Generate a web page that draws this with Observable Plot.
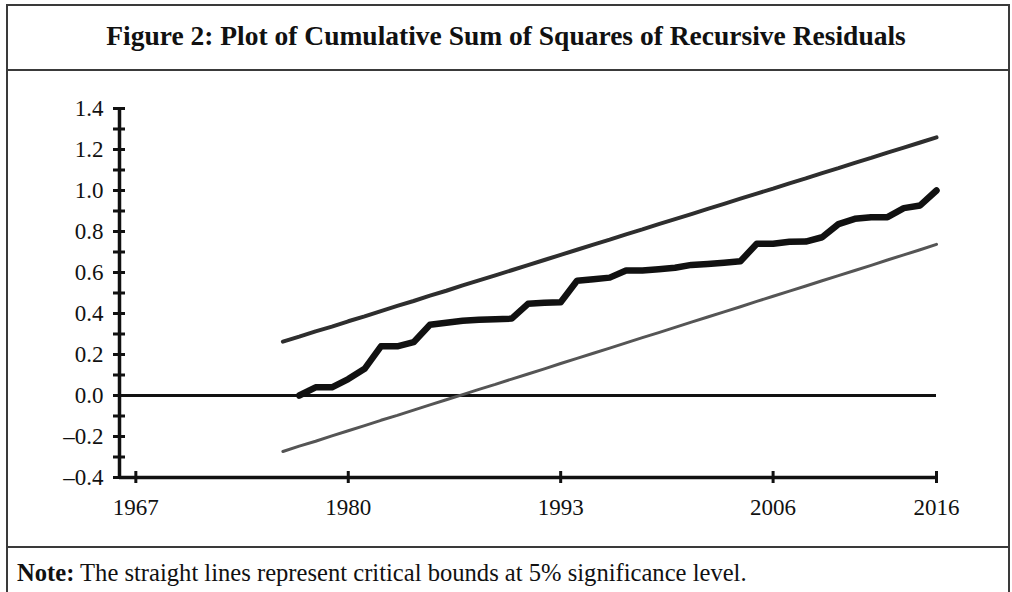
<!DOCTYPE html>
<html>
<head>
<meta charset="utf-8">
<script src="https://cdn.jsdelivr.net/npm/d3@7"></script>
<script src="https://cdn.jsdelivr.net/npm/@observablehq/plot@0.6"></script>
<style>
  html, body { margin: 0; padding: 0; background: #fff; }
  #wrap { position: relative; width: 1012px; height: 592px; overflow: hidden; background: #fff; font-family: "Liberation Serif", serif; color: #111; }
  #box { position: absolute; left: 6px; top: 4px; width: 1000px; height: 640px; border: 2px solid #3a3a3a; }
  .hline { position: absolute; left: 6px; width: 1004px; height: 2px; background: #3a3a3a; }
  #title { position: absolute; left: 0; top: 20px; width: 1012px; text-align: center; font-weight: bold; font-size: 27.5px; line-height: 32px; }
  #chart { position: absolute; left: 0; top: 70px; }
  #note { position: absolute; left: 17px; top: 559px; font-size: 24.6px; line-height: 28px; white-space: nowrap; }
</style>
</head>
<body>
<div id="wrap">
  <div id="box"></div>
  <div id="title">Figure 2: Plot of Cumulative Sum of Squares of Recursive Residuals</div>
  <div class="hline" style="top:69px"></div>
  <div id="chart"></div>
  <div class="hline" style="top:546px"></div>
  <div id="note"><b>Note:</b> The straight lines represent critical bounds at 5% significance level.</div>
</div>
<script>
// ---- data ----
const boundYears = [1976,1977,1978,1979,1980,1981,1982,1983,1984,1985,1986,1987,1988,1989,1990,1991,1992,1993,1994,1995,1996,1997,1998,1999,2000,2001,2002,2003,2004,2005,2006,2007,2008,2009,2010,2011,2012,2013,2014,2015,2016];
const upperBound = [0.263,0.287,0.313,0.336,0.362,0.386,0.412,0.437,0.461,0.487,0.511,0.537,0.562,0.586,0.611,0.636,0.661,0.686,0.711,0.736,0.760,0.786,0.810,0.836,0.860,0.885,0.910,0.935,0.960,0.985,1.009,1.035,1.059,1.085,1.109,1.135,1.159,1.185,1.209,1.234,1.259];
const lowerBound = [-0.273,-0.247,-0.223,-0.197,-0.172,-0.147,-0.121,-0.097,-0.071,-0.046,-0.021,0.004,0.030,0.054,0.080,0.105,0.130,0.156,0.181,0.206,0.231,0.257,0.282,0.307,0.332,0.358,0.383,0.408,0.433,0.459,0.484,0.509,0.534,0.560,0.585,0.610,0.635,0.661,0.686,0.711,0.737];
const cusumYears = [1977,1978,1979,1980,1981,1982,1983,1984,1985,1986,1987,1988,1989,1990,1991,1992,1993,1994,1995,1996,1997,1998,1999,2000,2001,2002,2003,2004,2005,2006,2007,2008,2009,2010,2011,2012,2013,2014,2015,2016];
const cusumSq = [0.0,0.04,0.04,0.08,0.13,0.24,0.24,0.26,0.345,0.355,0.365,0.37,0.372,0.375,0.447,0.452,0.455,0.56,0.567,0.575,0.61,0.61,0.616,0.623,0.637,0.642,0.648,0.655,0.74,0.74,0.75,0.751,0.772,0.836,0.862,0.87,0.87,0.914,0.927,1.0];
const xTickValues = [1967,1980,1993,2006,2016];
const xTickLabels = ["1967","1980","1993","2006","2016"];
const yTickValues = [-0.4,-0.2,0.0,0.2,0.4,0.6,0.8,1.0,1.2,1.4];
const yTickLabels = ["\u20130.4","\u20130.2","0.0","0.2","0.4","0.6","0.8","1.0","1.2","1.4"];
const yMinorTicks = [-0.3,-0.1,0.1,0.3,0.5,0.7,0.9,1.1,1.3];

const bounds = boundYears.map((year, i) => ({year, upper: upperBound[i], lower: lowerBound[i]}));
const cusum = cusumYears.map((year, i) => ({year, value: cusumSq[i]}));
const xMin = 1966, yMin = -0.4, yMax = 1.4;
const labelOf = (vals, labs) => d => { const i = vals.findIndex(v => Math.abs(v - d) < 1e-9); return i < 0 ? "" : labs[i]; };

const chart = Plot.plot({
  width: 1012,
  height: 477,
  marginLeft: 119,
  marginRight: 76,
  marginTop: 38,
  marginBottom: 70,
  x: {domain: [xMin, 2016]},
  y: {domain: [yMin, yMax]},
  style: {fontFamily: "Liberation Serif, serif", fontSize: "23px", color: "#111", background: "transparent", overflow: "visible"},
  marks: [
    Plot.ruleY([0], {stroke: "#111", strokeWidth: 3}),
    Plot.line(bounds, {x: "year", y: "lower", stroke: "#555", strokeWidth: 3, strokeLinecap: "round"}),
    Plot.line(bounds, {x: "year", y: "upper", stroke: "#2e2e2e", strokeWidth: 4, strokeLinecap: "round"}),
    Plot.line(cusum, {x: "year", y: "value", stroke: "#111", strokeWidth: 6.5, strokeLinecap: "round", strokeLinejoin: "round"}),
    // axis lines
    Plot.ruleX([xMin], {y1: yMin, y2: yMax, stroke: "#111", strokeWidth: 3.5}),
    Plot.ruleY([yMin], {x1: xMin, x2: 2016, stroke: "#111", strokeWidth: 3.5}),
    // crossing ticks
    Plot.ruleY(yTickValues.concat(yMinorTicks), {y: d => d, x1: xMin, x2: xMin, insetLeft: -6, insetRight: -6, stroke: "#111", strokeWidth: 3}),
    Plot.ruleX(xTickValues, {x: d => d, y1: yMin, y2: yMin, insetTop: -6, insetBottom: -6, stroke: "#111", strokeWidth: 3}),
    // labels
    Plot.axisY(yTickValues, {tickSize: 0, tickPadding: 16, tickFormat: labelOf(yTickValues, yTickLabels), label: null, fontSize: 23}),
    Plot.axisX(xTickValues, {tickSize: 0, tickPadding: 21, tickFormat: labelOf(xTickValues, xTickLabels), label: null, fontSize: 23})
  ]
});
document.getElementById("chart").appendChild(chart);
</script>
</body>
</html>
